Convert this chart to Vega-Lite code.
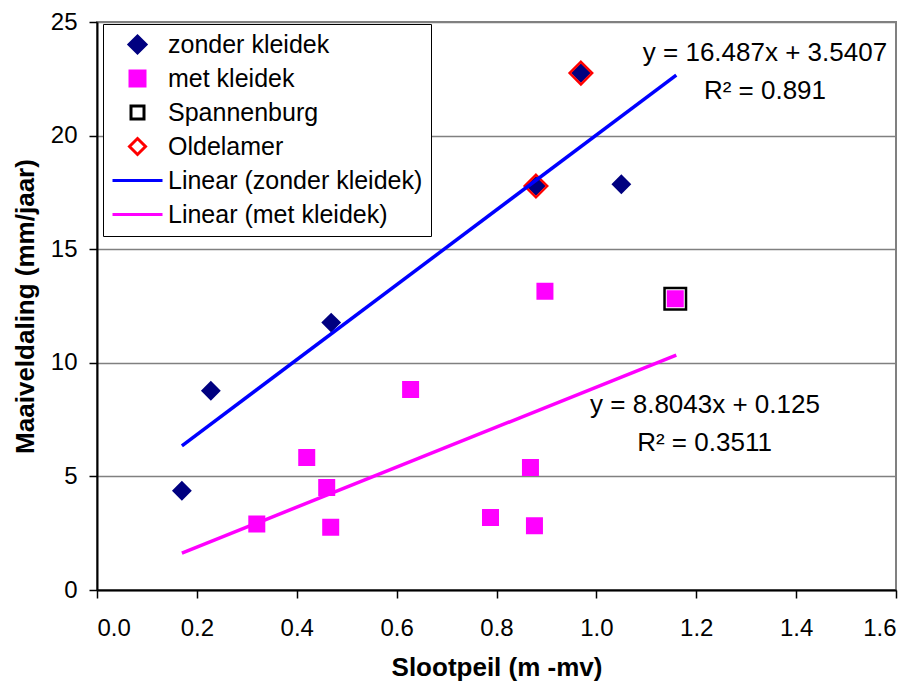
{
  "$schema": "https://vega.github.io/schema/vega-lite/v6.json",
  "width": 799,
  "height": 568,
  "autosize": {"type": "none"},
  "padding": {"left": 97, "top": 22, "right": 21, "bottom": 101},
  "background": "white",
  "config": {
    "font": "Liberation Sans",
    "view": {"stroke": "#808080", "strokeWidth": 2},
    "axis": {
      "labelFont": "Liberation Sans", "labelFontSize": 24, "labelColor": "black",
      "titleFont": "Liberation Sans", "titleFontSize": 26, "titleFontWeight": "bold", "titleColor": "black",
      "domainColor": "black", "domainWidth": 2, "tickColor": "black", "tickWidth": 1.5, "tickSize": 8
    },
    "legend": {
      "orient": "none", "legendX": 6, "legendY": 2, "columns": 1,
      "padding": 8, "strokeColor": "black", "fillColor": "white", "strokeWidth": 1,
      "labelFont": "Liberation Sans", "labelFontSize": 25, "labelColor": "black", "labelOffset": 4,
      "rowPadding": 8, "clipHeight": 25, "title": null, "labelLimit": 400,
      "symbolSize": 2500, "symbolStrokeWidth": 3
    }
  },
  "datasets": {
    "pts": [
      {"serie": "zonder kleidek", "x": 0.17, "y": 4.37},
      {"serie": "zonder kleidek", "x": 0.228, "y": 8.77},
      {"serie": "zonder kleidek", "x": 0.469, "y": 11.77},
      {"serie": "zonder kleidek", "x": 0.879, "y": 17.78},
      {"serie": "zonder kleidek", "x": 1.05, "y": 17.86},
      {"serie": "zonder kleidek", "x": 0.969, "y": 22.75},
      {"serie": "met kleidek", "x": 0.32, "y": 2.91},
      {"serie": "met kleidek", "x": 0.42, "y": 5.83},
      {"serie": "met kleidek", "x": 0.46, "y": 4.51},
      {"serie": "met kleidek", "x": 0.468, "y": 2.76},
      {"serie": "met kleidek", "x": 0.628, "y": 8.82},
      {"serie": "met kleidek", "x": 0.788, "y": 3.19},
      {"serie": "met kleidek", "x": 0.868, "y": 5.39},
      {"serie": "met kleidek", "x": 0.876, "y": 2.83},
      {"serie": "met kleidek", "x": 0.897, "y": 13.15},
      {"serie": "met kleidek", "x": 1.158, "y": 12.82},
      {"serie": "Spannenburg", "x": 1.158, "y": 12.82},
      {"serie": "Oldelamer", "x": 0.879, "y": 17.78},
      {"serie": "Oldelamer", "x": 0.969, "y": 22.75}
    ],
    "trend": [
      {"serie": "Linear (zonder kleidek)", "x": 0.17, "y": 6.344},
      {"serie": "Linear (zonder kleidek)", "x": 1.16, "y": 22.666},
      {"serie": "Linear (met kleidek)", "x": 0.17, "y": 1.622},
      {"serie": "Linear (met kleidek)", "x": 1.16, "y": 10.338}
    ],
    "labels": [
      {"x": 1.3376, "y": 23.28, "text": "y = 16.487x + 3.5407"},
      {"x": 1.3376, "y": 21.6, "text": "R² = 0.891"},
      {"x": 1.2175, "y": 7.79, "text": "y = 8.8043x + 0.125"},
      {"x": 1.2166, "y": 6.1, "text": "R² = 0.3511"}
    ]
  },
  "encoding": {
    "x": {
      "field": "x", "type": "quantitative",
      "scale": {"domain": [0, 1.6], "nice": false, "zero": false},
      "axis": {"values": [0, 0.2, 0.4, 0.6, 0.8, 1.0, 1.2, 1.4, 1.6], "format": ".1f", "grid": false,
               "title": "Slootpeil (m -mv)", "labelPadding": 18, "titlePadding": 14}
    },
    "y": {
      "field": "y", "type": "quantitative",
      "scale": {"domain": [0, 25], "nice": false},
      "axis": {"values": [0, 5, 10, 15, 20, 25], "grid": true, "gridColor": "#808080", "gridWidth": 1.5,
               "title": "Maaiveldaling (mm/jaar)", "labelPadding": 12, "titlePadding": 12}
    }
  },
  "layer": [
    {
      "data": {"name": "pts"},
      "transform": [{"filter": "datum.serie == 'zonder kleidek'"}],
      "mark": {"type": "point", "filled": true, "opacity": 1, "size": 2500},
      "encoding": {
        "fill": {"field": "serie", "type": "nominal",
          "scale": {"domain": ["zonder kleidek", "met kleidek", "Spannenburg", "Oldelamer", "Linear (zonder kleidek)", "Linear (met kleidek)"],
                    "range": ["#000080", "#FF00FF", "transparent", "transparent", "transparent", "transparent"]}},
        "stroke": {"field": "serie", "type": "nominal",
          "scale": {"domain": ["zonder kleidek", "met kleidek", "Spannenburg", "Oldelamer", "Linear (zonder kleidek)", "Linear (met kleidek)"],
                    "range": ["#000080", "#FF00FF", "#000000", "#FF0000", "#0000FF", "#FF00FF"]}},
        "shape": {"field": "serie", "type": "nominal",
          "scale": {"domain": ["zonder kleidek", "met kleidek", "Spannenburg", "Oldelamer", "Linear (zonder kleidek)", "Linear (met kleidek)"],
                    "range": ["M0,-0.34L0.34,0L0,0.34L-0.34,0Z",
                              "M-0.3,-0.3L0.3,-0.3L0.3,0.3L-0.3,0.3Z",
                              "M-0.26,-0.26L0.26,-0.26L0.26,0.26L-0.26,0.26Z",
                              "M0,-0.32L0.32,0L0,0.32L-0.32,0Z",
                              "M-1,0L1,0",
                              "M-1,0L1,0"]}}
      }
    },
    {
      "data": {"name": "pts"},
      "transform": [{"filter": "datum.serie == 'met kleidek'"}],
      "mark": {"type": "point", "filled": true, "opacity": 1, "size": 2500},
      "encoding": {
        "fill": {"field": "serie", "type": "nominal"},
        "stroke": {"field": "serie", "type": "nominal"},
        "shape": {"field": "serie", "type": "nominal"}
      }
    },
    {
      "data": {"name": "pts"},
      "transform": [{"filter": "datum.serie == 'Spannenburg'"}],
      "mark": {"type": "point", "filled": false, "opacity": 1, "strokeWidth": 2.5, "size": 6830},
      "encoding": {
        "fill": {"field": "serie", "type": "nominal"},
        "stroke": {"field": "serie", "type": "nominal"},
        "shape": {"field": "serie", "type": "nominal"}
      }
    },
    {
      "data": {"name": "pts"},
      "transform": [{"filter": "datum.serie == 'Oldelamer'"}],
      "mark": {"type": "point", "filled": false, "opacity": 1, "strokeWidth": 2.5, "size": 4944},
      "encoding": {
        "fill": {"field": "serie", "type": "nominal"},
        "stroke": {"field": "serie", "type": "nominal"},
        "shape": {"field": "serie", "type": "nominal"}
      }
    },
    {
      "data": {"name": "trend"},
      "mark": {"type": "line", "strokeWidth": 3.5},
      "encoding": {
        "stroke": {"field": "serie", "type": "nominal"}
      }
    },
    {
      "data": {"name": "labels"},
      "mark": {"type": "text", "fontSize": 26, "align": "center", "baseline": "alphabetic", "color": "black"},
      "encoding": {"text": {"field": "text", "type": "nominal"}}
    }
  ]
}
